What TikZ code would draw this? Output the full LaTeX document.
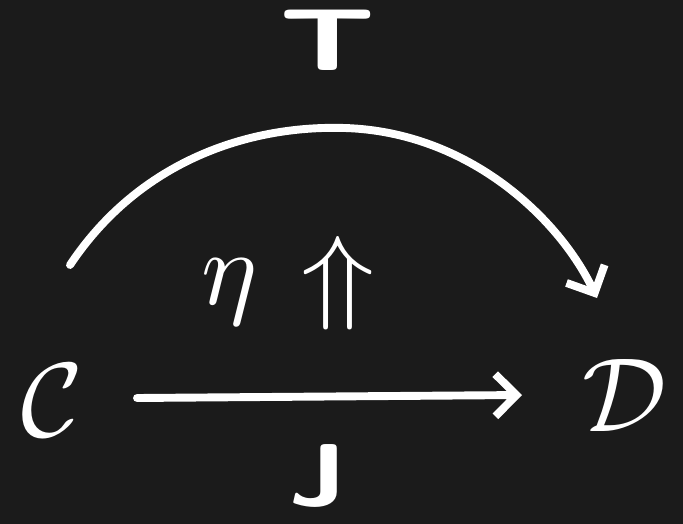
\documentclass[tikz,border=0pt]{standalone}
\usetikzlibrary{arrows.meta,calc}
\definecolor{bg}{HTML}{1B1B1B}
\begin{document}
\begin{tikzpicture}[x=0.02cm,y=-0.02cm,
  stroke/.style={white,line width=4.5pt,line cap=round,line join=round},
  arr/.style={stroke,-{Straight Barb[length=12pt,width=24pt,line width=4.5pt]}},
  obj/.style={white,inner sep=0pt},
  lbl/.style={white,font=\sffamily\bfseries\fontsize{50}{50}\selectfont,inner sep=0pt}]
\fill[bg] (0,0) rectangle (683,524);
\useasboundingbox (0,0) rectangle (683,524);
\node[obj] (C) at (52,400) {\scalebox{6}{$\mathcal{C}$}};
\node[obj] (D) at (625,395) {\scalebox{6}{$\mathcal{D}$}};
\draw[arr] ($(C)+(85,-2)$) coordinate (Js) -- ($(D)+(-103,0)$) coordinate (Je);
\coordinate (Ts) at ($(C)+(18,-135)$);
\coordinate (Te) at ($(D)+(-28,-97)$);
\draw[arr] (Ts) .. controls (140,160) and (250,125) .. (345,128)
  .. controls (470,132) and (560,220) .. (Te);
\node[lbl] (T) at (328,40) {\scalebox{1.5}[1]{T}};
\node[lbl] (J) at (318,476) {\scalebox{1.3}[1]{J}};
\node[obj] (eta) at (230,292) {\scalebox{6}{$\eta$}};
\node[obj] (up) at (338,283) {\scalebox{7}[6]{$\Uparrow$}};
\end{tikzpicture}
\end{document}
